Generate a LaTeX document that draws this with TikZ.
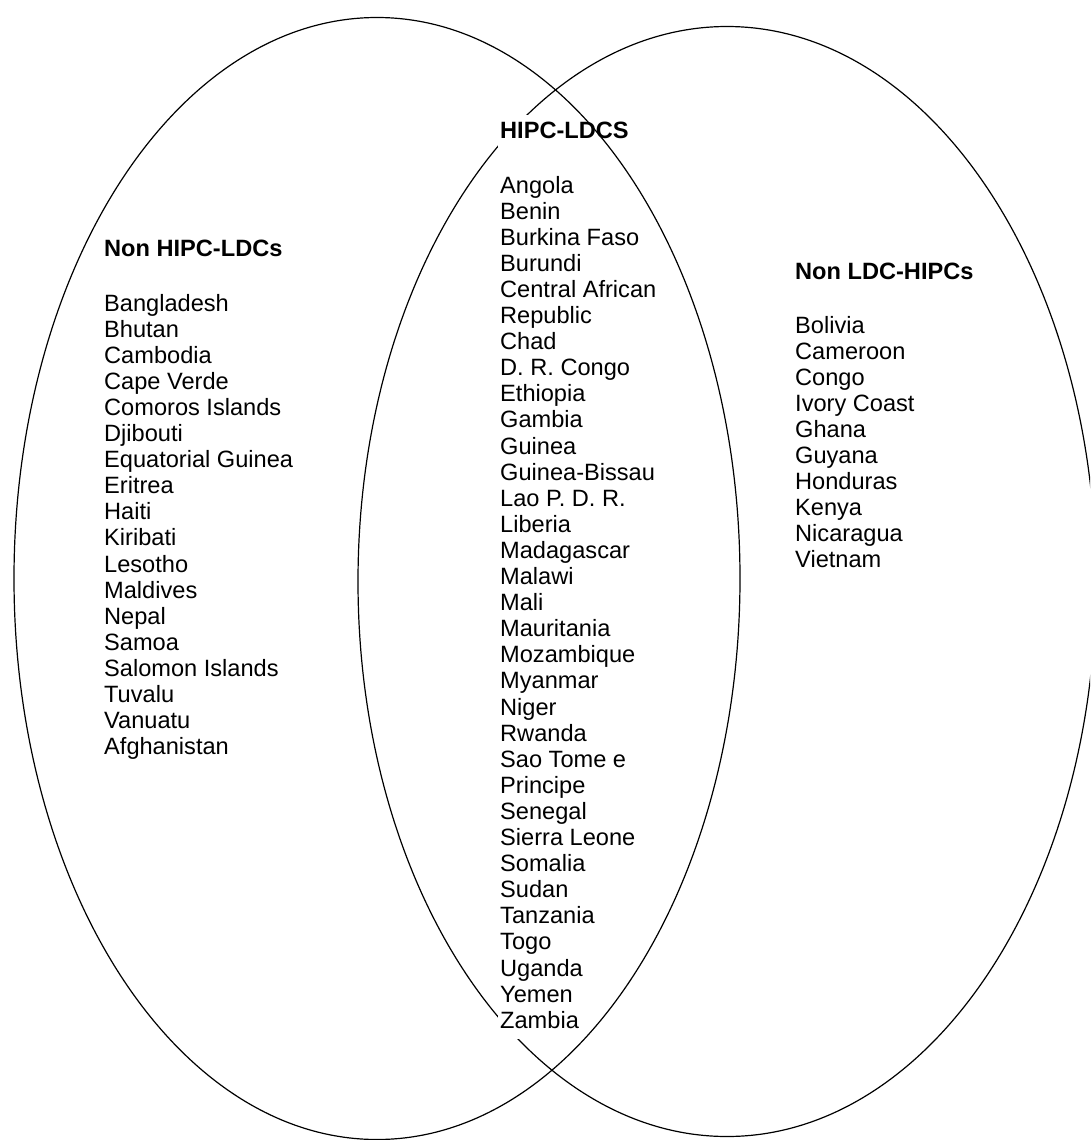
\documentclass[tikz,border=0pt]{standalone}
\usepackage{fontspec}
\setmainfont{Liberation Sans}
\begin{document}
\begin{tikzpicture}[x=1pt,y=-1pt,
  set/.style={line width=1.2pt, draw=black},
  item/.style={inner sep=0pt, anchor=base west, font=\fontsize{23.6}{26.1}\selectfont},
  head/.style={item, font=\fontsize{23.6}{26.1}\selectfont\bfseries}]
\useasboundingbox (0,0) rectangle (1090,1140);
\clip (0,0) rectangle (1090,1140);
% right set (drawn first, partly hidden by the centre text box)
\draw[set] (727,581.5) ellipse [x radius=369pt, y radius=555pt];
% white background of the centre text block
\fill[white] (498,115) rectangle (662,1039);
% left set
\draw[set] (377,578.5) ellipse [x radius=363pt, y radius=561pt];
% headings
\node[head] (hl) at (104,256) {Non HIPC-LDCs};
\node[head] (hc) at (500,138) {HIPC-LDCS};
\node[head] (hr) at (795,279) {Non LDC-HIPCs};
% lists
\foreach [count=\i] \t in {Bangladesh,Bhutan,Cambodia,Cape Verde,Comoros Islands,Djibouti,Equatorial Guinea,Eritrea,Haiti,Kiribati,Lesotho,Maldives,Nepal,Samoa,Salomon Islands,Tuvalu,Vanuatu,Afghanistan}
  \node[item] (L\i) at (104,{311+(\i-1)*26.1}) {\t};
\foreach [count=\i] \t in {Angola,Benin,Burkina Faso,Burundi,Central African,Republic,Chad,D. R. Congo,Ethiopia,Gambia,Guinea,Guinea-Bissau,Lao P. D. R.,Liberia,Madagascar,Malawi,Mali,Mauritania,Mozambique,Myanmar,Niger,Rwanda,Sao Tome e,Principe,Senegal,Sierra Leone,Somalia,Sudan,Tanzania,Togo,Uganda,Yemen,Zambia}
  \node[item] (C\i) at (500,{193+(\i-1)*26.1}) {\t};
\foreach [count=\i] \t in {Bolivia,Cameroon,Congo,Ivory Coast,Ghana,Guyana,Honduras,Kenya,Nicaragua,Vietnam}
  \node[item] (R\i) at (795,{333+(\i-1)*26.1}) {\t};
\end{tikzpicture}
\end{document}
